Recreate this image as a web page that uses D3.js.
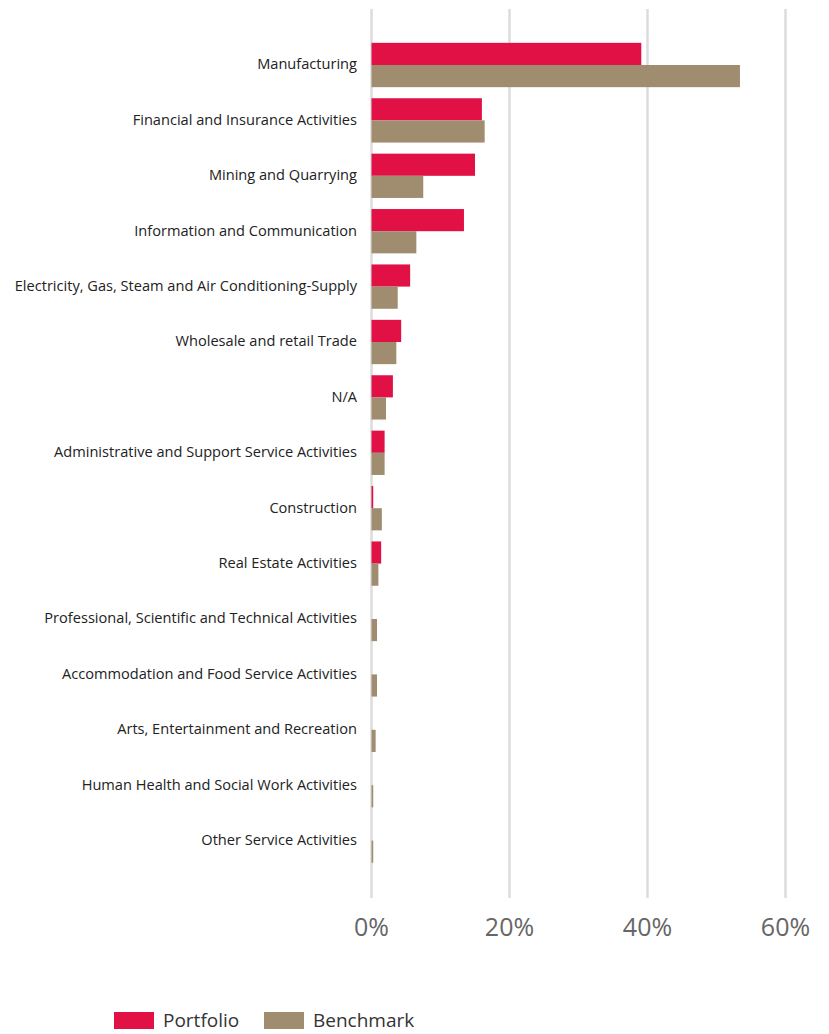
<!DOCTYPE html>
<html>
<head>
<meta charset="utf-8">
<script src="https://cdn.jsdelivr.net/npm/d3@7"></script>
<style>
  body { margin: 0; background: #fff; }
  text { font-family: "Open Sans", "Noto Sans", sans-serif; }
</style>
</head>
<body>
<div id="chart"></div>
<script>
// sectors, top to bottom
var sectors = [
  "Manufacturing",
  "Financial and Insurance Activities",
  "Mining and Quarrying",
  "Information and Communication",
  "Electricity, Gas, Steam and Air Conditioning-Supply",
  "Wholesale and retail Trade",
  "N/A",
  "Administrative and Support Service Activities",
  "Construction",
  "Real Estate Activities",
  "Professional, Scientific and Technical Activities",
  "Accommodation and Food Service Activities",
  "Arts, Entertainment and Recreation",
  "Human Health and Social Work Activities",
  "Other Service Activities"
];

// weights in %
var portfolio = [39.1, 16.0, 15.0, 13.4, 5.6, 4.3, 3.1, 1.9, 0.25, 1.4, 0, 0, 0, 0, 0];
var benchmark = [53.4, 16.4, 7.5, 6.5, 3.8, 3.6, 2.1, 1.9, 1.5, 1.0, 0.8, 0.8, 0.6, 0.25, 0.25];

var xTicks = [0, 20, 40, 60];
var seriesNames = ["Portfolio", "Benchmark"];
var colors = ["#E11145", "#A08D70"];

var width = 829,
    height = 1034;

var svg = d3.select("#chart")
    .append("svg")
    .attr("width", width)
    .attr("height", height);

var x = d3.scaleLinear()
    .domain([0, 60])
    .range([371.5, 785.5]);

var y = d3.scaleBand()
    .domain(sectors)
    .range([37.3, 868.3])
    .paddingInner(0.2)
    .paddingOuter(0.1);

var inner = d3.scaleBand()
    .domain(seriesNames)
    .range([0, y.bandwidth()]);

// gridlines
svg.append("g")
    .selectAll("line")
    .data(xTicks)
    .enter()
    .append("line")
    .attr("x1", function(d) { return x(d); })
    .attr("x2", function(d) { return x(d); })
    .attr("y1", 9)
    .attr("y2", 898)
    .attr("stroke", "#dcdcdc")
    .attr("stroke-width", 2.5);

// tick labels
svg.append("g")
    .selectAll("text")
    .data(xTicks)
    .enter()
    .append("text")
    .attr("x", function(d) { return x(d); })
    .attr("y", 936)
    .attr("text-anchor", "middle")
    .attr("fill", "#666")
    .style("font-size", "25px")
    .text(function(d) { return d + "%"; });

// bars
var rows = sectors.map(function(s, i) {
    return { sector: s, values: [portfolio[i], benchmark[i]] };
});

var groups = svg.append("g")
    .selectAll("g")
    .data(rows)
    .enter()
    .append("g")
    .attr("transform", function(d) { return "translate(0," + y(d.sector) + ")"; });

groups.selectAll("rect")
    .data(function(d) {
        return d.values.map(function(v, j) { return { name: seriesNames[j], value: v, i: j }; });
    })
    .enter()
    .append("rect")
    .attr("x", x(0))
    .attr("y", function(d) { return inner(d.name); })
    .attr("width", function(d) { return x(d.value) - x(0); })
    .attr("height", inner.bandwidth())
    .attr("fill", function(d) { return colors[d.i]; });

// category labels
groups.append("text")
    .attr("x", 357)
    .attr("y", y.bandwidth() / 2)
    .attr("dy", "0.3em")
    .attr("text-anchor", "end")
    .attr("fill", "#222")
    .style("font-size", "14.6px")
    .text(function(d) { return d.sector; });

// legend
var legendX = [114, 264];
var legend = svg.append("g")
    .selectAll("g")
    .data(seriesNames)
    .enter()
    .append("g")
    .attr("transform", function(d, i) { return "translate(" + legendX[i] + ",1012)"; });

legend.append("rect")
    .attr("width", 40)
    .attr("height", 17)
    .attr("fill", function(d, i) { return colors[i]; });

legend.append("text")
    .attr("x", 49)
    .attr("y", 15)
    .attr("fill", "#333")
    .style("font-size", "19px")
    .text(function(d) { return d; });
</script>
</body>
</html>
